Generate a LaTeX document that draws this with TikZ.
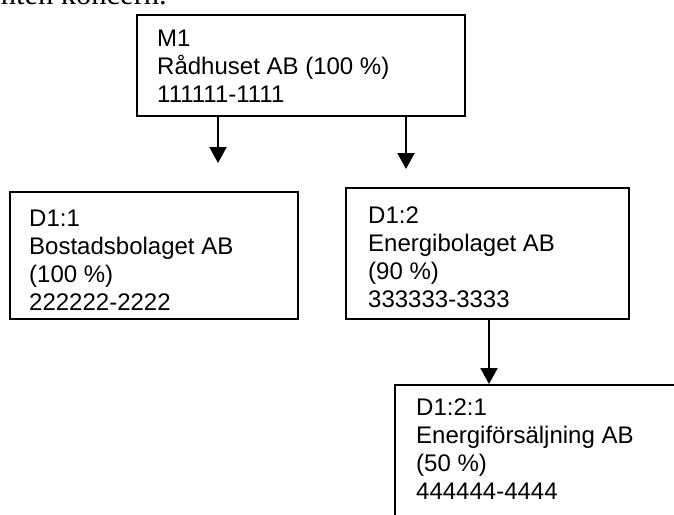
\documentclass[tikz,border=0pt]{standalone}
\usepackage{fontspec}
\setmainfont{Liberation Sans}
\newfontfamily\serifbody{Liberation Serif}
\usetikzlibrary{arrows.meta}
\tikzset{
  box/.style={draw=black, line width=2.2pt, fill=none, inner sep=0pt, anchor=north west},
  label/.style={anchor=base west, align=left, inner sep=0pt, font=\fontsize{24}{28}\selectfont},
  link/.style={line width=2.2pt, -{Triangle[width=17pt,length=16pt]}}
}
\begin{document}
\begin{tikzpicture}[x=1pt,y=-1pt]
\useasboundingbox (0,0) rectangle (674,514);
\clip (0,0) rectangle (674,514);
% cut-off line of body text at the top
\node[anchor=base east, inner sep=0pt, font=\serifbody\fontsize{30.5}{34}\selectfont] (head) at (167,4.5) {nten koncern.};
% boxes
\node[box, minimum width=328pt, minimum height=101pt] (m1) at (136,14) {};
\node[box, minimum width=288pt, minimum height=127pt] (d11) at (9,191) {};
\node[box, minimum width=283pt, minimum height=131pt] (d12) at (345,187) {};
\node[box, minimum width=300pt, minimum height=150pt] (d121) at (394,384) {};
% texts (anchored at the baseline of the last line)
\node[label] (m1t) at (157,102) {M1\\Rådhuset AB (100 \%)\\111111-1111};
\node[label] (d11t) at (29,310) {D1:1\\Bostadsbolaget AB\\(100 \%)\\222222-2222};
\node[label] (d12t) at (368,307) {D1:2\\Energibolaget AB\\(90 \%)\\333333-3333};
\node[label] (d121t) at (416,499) {D1:2:1\\Energiförsäljning AB\\(50 \%)\\444444-4444};
% connectors
\coordinate (t1) at (218,163);
\coordinate (t2) at (406,169);
\draw[link] (m1.south -| t1) -- (t1);
\draw[link] (m1.south -| t2) -- (t2);
\draw[link] (d12.south -| 489,0) -- (d121.north -| 489,0);
\end{tikzpicture}
\end{document}
